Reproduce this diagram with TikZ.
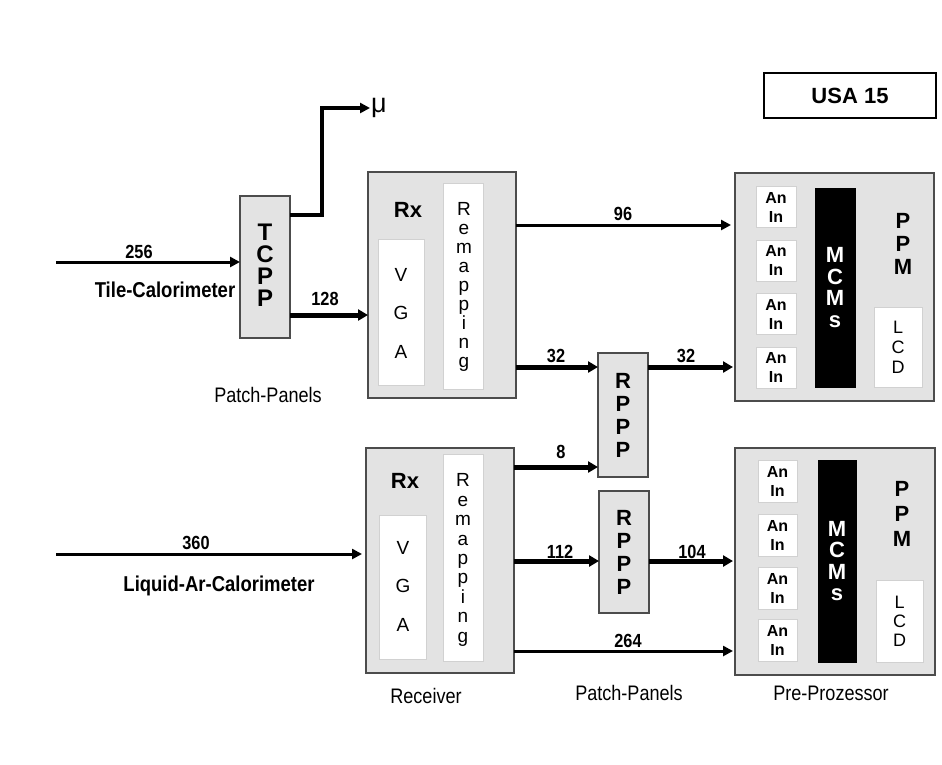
\documentclass[tikz,border=0pt]{standalone}
\usepackage{fontspec}
\setmainfont{Liberation Sans}
\newfontfamily\narfont[FakeStretch=0.86]{Liberation Sans}
\usetikzlibrary{arrows.meta,calc}
\newcommand{\myfs}[2]{\fontsize{#1}{#2}\selectfont}
\tikzset{
  gbox/.style={draw=black!70, line width=1.3pt, fill=black!11, inner sep=0pt, outer sep=0pt},
  wbox/.style={draw=black!18, line width=0.6pt, fill=white, inner sep=0pt, outer sep=0pt},
  kbox/.style={draw=black, fill=black, inner sep=0pt, outer sep=0pt},
  thinarr/.style={line width=3pt, -{Triangle[length=10pt,width=10pt]}},
  midarr/.style={line width=4pt, -{Triangle[length=10pt,width=10pt]}},
  thickarr/.style={line width=5pt, -{Triangle[length=10pt,width=11pt]}},
  num/.style={font=\narfont\bfseries\myfs{19}{19}, inner sep=0pt},
  caption/.style={font=\narfont\myfs{21}{21}, inner sep=0pt},
  bigbold/.style={font=\narfont\bfseries\myfs{21.5}{21.5}, inner sep=0pt},
  stackb/.style 2 args={align=center, inner sep=0pt, font=\bfseries\myfs{#1}{#2}},
  stackr/.style 2 args={align=center, inner sep=0pt, font=\myfs{#1}{#2}},
}
\begin{document}
\begin{tikzpicture}[x=1pt,y=-1pt]
\useasboundingbox (0,0) rectangle (942,764);

% title
\node[draw=black, line width=2.5pt, fill=white, minimum width=172pt, minimum height=45pt, inner sep=0pt,
      font=\bfseries\myfs{22}{22}] (usa) at (850,95.5) {USA 15};

% TCPP
\node[gbox, minimum width=50pt, minimum height=142pt] (tcpp) at (265,267) {};
\node[stackb={24}{22}] (tcppt) at (265,265) {T\\C\\P\\P};

% upper receiver
\node[gbox, minimum width=148pt, minimum height=226pt] (rx1) at (442,285) {};
\node[wbox, minimum width=46pt, minimum height=146pt] (vga1) at (401,312) {};
\node[wbox, minimum width=40pt, minimum height=206pt] (rem1) at (463,286) {};
\node[font=\bfseries\myfs{22}{22}, inner sep=0pt] (rx1t) at (408,210) {Rx};
\node[stackr={19}{38.5}] (vga1t) at (401,313) {V\\G\\A};
\node[stackr={19}{19.1}] (rem1t) at (464,287) {R\\e\\m\\a\\p\\p\\i\\n\\g};

% lower receiver
\node[gbox, minimum width=148pt, minimum height=225pt] (rx2) at (440,560.5) {};
\node[wbox, minimum width=47pt, minimum height=144pt] (vga2) at (402.5,587) {};
\node[wbox, minimum width=40pt, minimum height=207pt] (rem2) at (463,557.5) {};
\node[font=\bfseries\myfs{22}{22}, inner sep=0pt] (rx2t) at (405,481) {Rx};
\node[stackr={19}{38.5}] (vga2t) at (403,586) {V\\G\\A};
\node[stackr={19}{19.4}] (rem2t) at (463,560) {R\\e\\m\\a\\p\\p\\i\\n\\g};

% RPPP boxes
\node[gbox, minimum width=50pt, minimum height=124pt] (rppp1) at (623,415) {};
\node[stackb={22}{23}] (rppp1t) at (rppp1.center) {R\\P\\P\\P};
\node[gbox, minimum width=50pt, minimum height=122pt] (rppp2) at (624,552) {};
\node[stackb={22}{23}] (rppp2t) at (rppp2.center) {R\\P\\P\\P};

% upper PPM
\node[gbox, minimum width=199pt, minimum height=228pt] (ppm1) at (834.5,287) {};
\foreach \yy/\nm in {207/a,260.5/b,314/c,367.5/d}{
  \node[wbox, minimum width=40pt, minimum height=41pt] (an1\nm) at (776,\yy) {};
  \node[stackb={16}{19}] at (an1\nm.center) {An\\In};
}
\node[kbox, minimum width=40pt, minimum height=199pt] (mcm1) at (835,287.5) {};
\node[stackb={22}{21.5}, text=white] (mcm1t) at (mcm1.center) {M\\C\\M\\s};
\node[stackb={22}{23}] (ppm1t) at (903,244) {P\\P\\M};
\node[wbox, minimum width=48pt, minimum height=80pt] (lcd1) at (898,347) {};
\node[stackr={18}{20}] (lcd1t) at (lcd1.center) {L\\C\\D};

% lower PPM
\node[gbox, minimum width=200pt, minimum height=227pt] (ppm2) at (835,561.5) {};
\foreach \yy/\nm in {481.5/a,535/b,588.5/c,640.5/d}{
  \node[wbox, minimum width=39pt, minimum height=42pt] (an2\nm) at (777.5,\yy) {};
  \node[stackb={16}{19}] at (an2\nm.center) {An\\In};
}
\node[kbox, minimum width=38pt, minimum height=202pt] (mcm2) at (837,561) {};
\node[stackb={22}{21.5}, text=white] (mcm2t) at (mcm2.center) {M\\C\\M\\s};
\node[stackb={22}{25}] (ppm2t) at (902,514) {P\\P\\M};
\node[wbox, minimum width=47pt, minimum height=82pt] (lcd2) at (899.5,621) {};
\node[stackr={18}{19}] (lcd2t) at (lcd2.center) {L\\C\\D};

% free ends and rows
\coordinate (tilesrc) at (56,262);
\coordinate (larsrc) at (56,554);
\coordinate (ymu) at (0,215);
\coordinate (y128) at (0,315);
\coordinate (y96) at (0,225);
\coordinate (y32) at (0,367);
\coordinate (y8) at (0,467);
\coordinate (y112) at (0,561);
\coordinate (y264) at (0,651);
\node[font=\myfs{27}{27}, inner sep=1pt, anchor=west] (mu) at (370,108) {μ};

% connectors
\draw[thinarr] (tilesrc) -- (tilesrc -| tcpp.west);
\draw[midarr] (tcpp.east |- ymu) -- ++(32,0) |- (mu.west);
\draw[thickarr] (tcpp.east |- y128) -- (rx1.west |- y128);
\draw[thinarr, shorten >=4pt] (rx1.east |- y96) -- (ppm1.west |- y96);
\draw[thickarr] (rx1.east |- y32) -- (rppp1.west |- y32);
\draw[thickarr, shorten >=2pt] (rppp1.east |- y32) -- (ppm1.west |- y32);
\draw[thinarr, shorten >=4pt] (larsrc) -- (larsrc -| rx2.west);
\draw[thickarr] (rx2.east |- y8) -- (rppp1.west |- y8);
\draw[thickarr] (rx2.east |- y112) -- (rppp2.west |- y112);
\draw[thickarr, shorten >=2pt] (rppp2.east |- y112) -- (ppm2.west |- y112);
\draw[thinarr, shorten >=2pt] (rx2.east |- y264) -- (ppm2.west |- y264);

% numbers
\node[num] (n256) at (139,252) {256};
\node[num] (n128) at (325,299) {128};
\node[num] (n96) at (623,214) {96};
\node[num] (n32a) at (556,356) {32};
\node[num] (n32b) at (686,356) {32};
\node[num] (n8) at (561,452) {8};
\node[num] (n112) at (560,552) {112};
\node[num] (n104) at (692,552) {104};
\node[num] (n264) at (628,641) {264};
\node[num] (n360) at (196,543) {360};

% captions
\node[bigbold] (tile) at (165,290) {Tile-Calorimeter};
\node[bigbold] (lar) at (219,586) {Liquid-Ar-Calorimeter};
\node[caption] (pp1) at (268,395) {Patch-Panels};
\node[caption] (rcv) at (426,696) {Receiver};
\node[caption] (pp2) at (629,693) {Patch-Panels};
\node[caption] (pre) at (831,693) {Pre-Prozessor};
\end{tikzpicture}
\end{document}
